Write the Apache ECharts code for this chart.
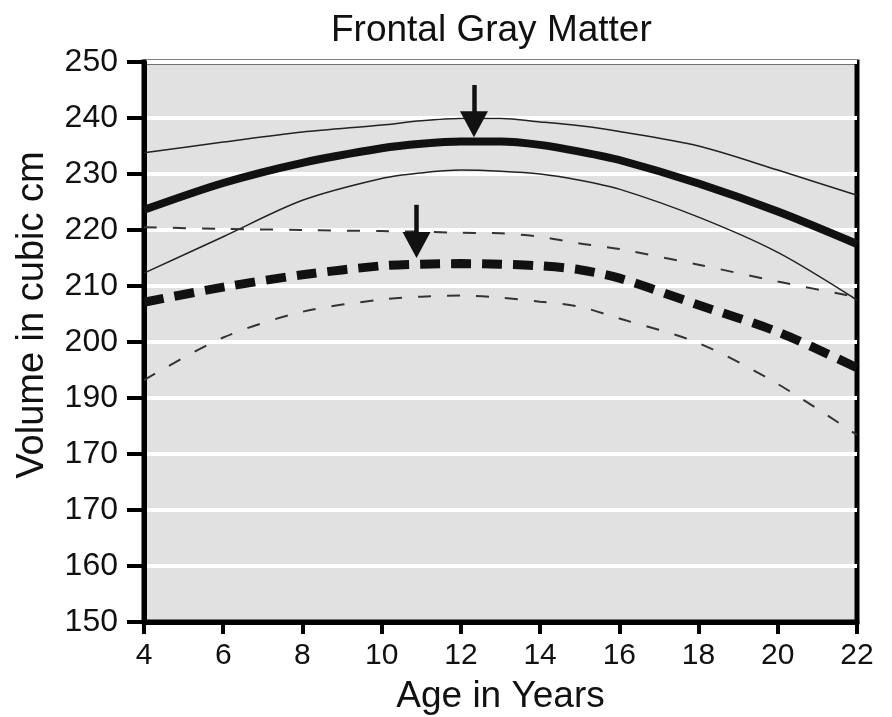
<!DOCTYPE html>
<html>
<head>
<meta charset="utf-8">
<script src="https://cdn.jsdelivr.net/npm/echarts@6/dist/echarts.min.js"></script>
<style>html,body{margin:0;padding:0;background:#fff}#c{width:892px;height:717px}</style>
</head>
<body>
<div id="c"></div>
<script>
const ages = [4, 6, 8, 10, 11, 12, 13, 14, 15, 16, 18, 20, 22];
const maleUpper   = [233.8, 235.7, 237.5, 238.75, 239.5, 239.9, 239.9, 239.3, 238.6, 237.6, 235.0, 230.7, 226.2];
const maleMean    = [223.6, 228.4, 232.0, 234.6, 235.4, 235.8, 235.8, 235.2, 234.0, 232.5, 228.3, 223.3, 217.5];
const maleLower   = [212.3, 218.8, 225.3, 229.2, 230.2, 230.7, 230.5, 230.0, 228.9, 227.3, 222.3, 216.0, 207.5];
const femaleUpper = [220.5, 220.2, 220.0, 219.8, 219.7, 219.5, 219.4, 218.8, 217.6, 216.6, 213.8, 210.8, 208.0];
const femaleMean  = [207.1, 209.8, 212.0, 213.6, 213.9, 214.0, 213.9, 213.6, 212.9, 211.4, 206.6, 201.8, 195.4];
const femaleLower = [193.2, 200.8, 205.4, 207.6, 208.1, 208.3, 207.9, 207.2, 206.3, 204.2, 199.8, 192.5, 183.4];
const yTickLabels = ['150', '160', '170', '170', '190', '200', '210', '220', '230', '240', '250'];
const xTicks = [4, 6, 8, 10, 12, 14, 16, 18, 20, 22];
// peak arrows: [age, top of shaft value, arrow-head centre value]
const maleArrow = [12.33, 245.9, 238.9];
const femaleArrow = [10.88, 224.5, 217.3];

const FONT = 'Liberation Sans';
const pair = (ys) => ages.map((a, i) => [a, ys[i]]);

function lineSeries(name, ys, width, type, color) {
  return {
    name, type: 'line', data: pair(ys), smooth: 0.3, showSymbol: false, symbol: 'none',
    lineStyle: { width, type, color, cap: 'butt' }, silent: true, animation: false, z: 3
  };
}

const chart = echarts.init(document.getElementById('c'), null, { renderer: 'canvas' });
const series = [
  lineSeries('Male upper', maleUpper, 1.5, 'solid', '#222'),
  lineSeries('Male lower', maleLower, 1.5, 'solid', '#222'),
  lineSeries('Female upper', femaleUpper, 2, [13, 16], '#333'),
  lineSeries('Female lower', femaleLower, 2, [13, 16], '#333'),
  lineSeries('Female mean', femaleMean, 9, [20, 11], '#111'),
  lineSeries('Male mean', maleMean, 8, 'solid', '#111')
];
series[5].markLine = {
  silent: true, animation: false,
  symbol: ['none', 'triangle'], symbolSize: [28, 26],
  label: { show: false },
  lineStyle: { color: '#111', width: 4.5, type: 'solid' },
  emphasis: { disabled: true },
  data: [
    [{ coord: [maleArrow[0], maleArrow[1]] }, { coord: [maleArrow[0], maleArrow[2]] }],
    [{ coord: [femaleArrow[0], femaleArrow[1]] }, { coord: [femaleArrow[0], femaleArrow[2]] }]
  ]
};

chart.setOption({
  animation: false,
  backgroundColor: '#fff',
  title: {
    text: 'Frontal Gray Matter', left: 326, top: 7,
    textStyle: { fontFamily: FONT, fontSize: 37, fontWeight: 'normal', color: '#111' }
  },
  grid: {
    left: 144, right: 35, top: 62, bottom: 95, show: true,
    outerBoundsMode: 'none', containLabel: false,
    backgroundColor: '#e1e1e1', borderColor: '#000', borderWidth: 5
  },
  xAxis: {
    type: 'value', min: 4, max: 22, interval: 2,
    name: 'Age in Years', nameLocation: 'middle', nameGap: 56,
    nameTextStyle: { fontFamily: FONT, fontSize: 37, color: '#111' },
    axisLine: { show: true, onZero: false, lineStyle: { color: '#000', width: 5 } },
    axisTick: { show: true, length: 12, lineStyle: { color: '#000', width: 4 } },
    axisLabel: {
      fontFamily: FONT, fontSize: 30, color: '#111', margin: 19,
      formatter: (v) => xTicks.includes(v) ? String(v) : ''
    },
    splitLine: { show: false }
  },
  yAxis: {
    type: 'value', min: 150, max: 250, interval: 10,
    name: 'Volume in cubic cm', nameLocation: 'middle', nameGap: 92,
    nameTextStyle: { fontFamily: FONT, fontSize: 38, color: '#111', padding: [0, 0, 0, 54] },
    axisLine: { show: true, onZero: false, lineStyle: { color: '#000', width: 5 } },
    axisTick: { show: true, length: 17, lineStyle: { color: '#000', width: 4 } },
    axisLabel: {
      fontFamily: FONT, fontSize: 32, color: '#111', margin: 26,
      formatter: (v) => yTickLabels[Math.round((v - 150) / 10)]
    },
    splitLine: { show: true, lineStyle: { color: '#fff', width: 4 } }
  },
  series
});
</script>
</body>
</html>
